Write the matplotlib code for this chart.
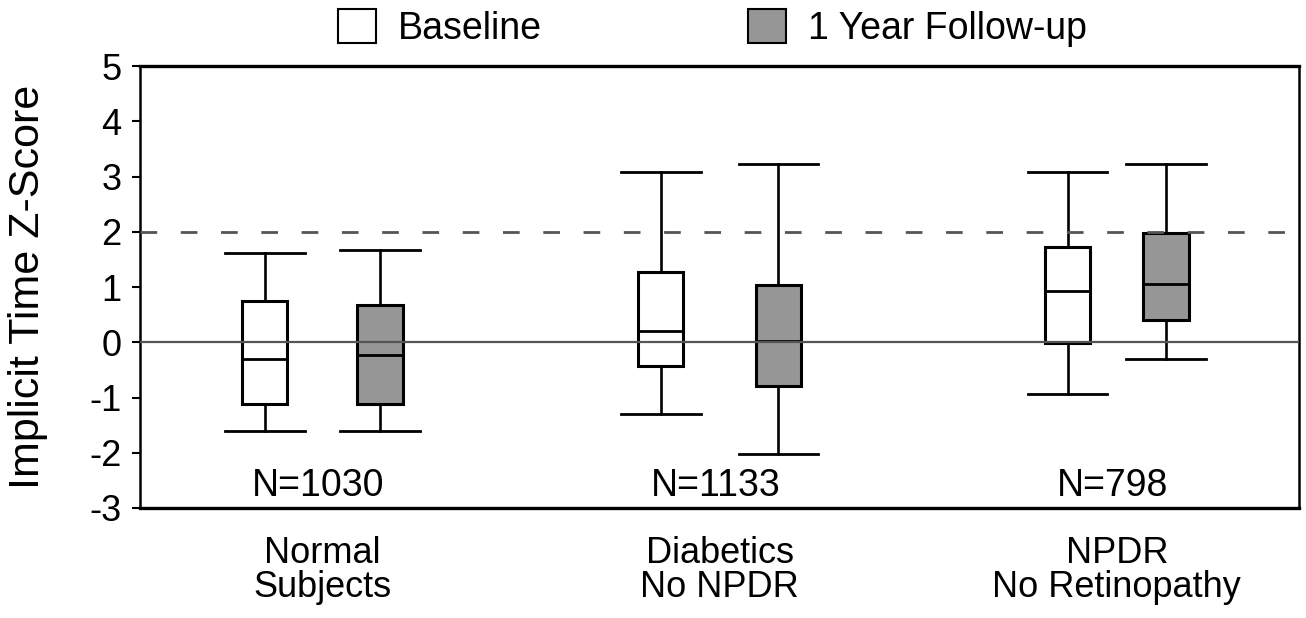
import matplotlib.pyplot as plt
from matplotlib.patches import Patch
import numpy as np

plt.rcParams['font.family'] = ['Liberation Sans', 'DejaVu Sans']
plt.rcParams['axes.unicode_minus'] = False

groups = ['Normal\nSubjects', 'Diabetics\nNo NPDR', 'NPDR\nNo Retinopathy']
n_labels = ['N=1030', 'N=1133', 'N=798']

# five-number summaries: [low whisker, q1, median, q3, high whisker]
baseline = [[-1.60, -1.11, -0.31, 0.75, 1.62],
            [-1.30, -0.43, 0.20, 1.28, 3.09],
            [-0.93, -0.02, 0.92, 1.73, 3.09]]
followup = [[-1.60, -1.11, -0.23, 0.67, 1.67],
            [-2.03, -0.79, 0.02, 1.04, 3.22],
            [-0.31, 0.41, 1.06, 1.98, 3.22]]

WHITE = '#ffffff'
GRAY = '#969696'


def make_stats(rows):
    out = []
    for lo, q1, med, q3, hi in rows:
        out.append(dict(whislo=lo, q1=q1, med=med, q3=q3, whishi=hi, fliers=[]))
    return out


fig = plt.figure(figsize=(13.06, 6.18), dpi=100)
ax = fig.add_axes([0.107, 0.178, 0.888, 0.715])

x = np.arange(1, len(groups) + 1)
offs = np.array([0.145, 0.148, 0.124])

for stats, pos, color in [(baseline, x - offs, WHITE), (followup, x + offs, GRAY)]:
    ax.bxp(make_stats(stats), positions=pos, widths=0.114, capwidths=0.2,
           patch_artist=True, showfliers=False,
           boxprops=dict(facecolor=color, edgecolor='black', linewidth=2.2),
           medianprops=dict(color='black', linewidth=2.0),
           whiskerprops=dict(color='black', linewidth=1.9),
           capprops=dict(color='black', linewidth=2.0))

ax.axhline(0, color='#555555', lw=1.6, zorder=5)
ax.axhline(2, color='#555555', lw=2.0, dashes=(6, 8.5), zorder=5)

for xi, lab in zip(x, n_labels):
    ax.text(xi - 0.01, -2.6, lab, ha='center', va='center', fontsize=27)

ax.set_xlim(0.54, 3.46)
ax.set_ylim(-3, 5)
ax.set_yticks(range(-3, 6))
ax.set_xticks(x)
ax.set_xticklabels(groups, fontsize=26, linespacing=0.98)
ax.tick_params(axis='x', length=0, pad=20)
ax.tick_params(axis='y', direction='out', length=6, width=1.5, labelsize=26, pad=7)
ax.set_ylabel('Implicit Time Z-Score', fontsize=31)
ax.yaxis.set_label_coords(-0.079, 0.5)
for s in ax.spines.values():
    s.set_linewidth(1.8)
ax.spines['top'].set_linewidth(2.4)
ax.spines['bottom'].set_linewidth(2.4)

legend_items = [('Baseline', WHITE, 338), ('1 Year Follow-up', GRAY, 748)]
for lab, color, px in legend_items:
    h = Patch(facecolor=color, edgecolor='black', lw=1.5, label=lab)
    fig.legend(handles=[h], loc='center left', bbox_to_anchor=(px / 1306, 1 - 28 / 618),
               frameon=False, fontsize=27, handlelength=1.0, handleheight=1.0,
               handletextpad=0.6, borderpad=0, borderaxespad=0)

fig.savefig('out.png', dpi=100)
